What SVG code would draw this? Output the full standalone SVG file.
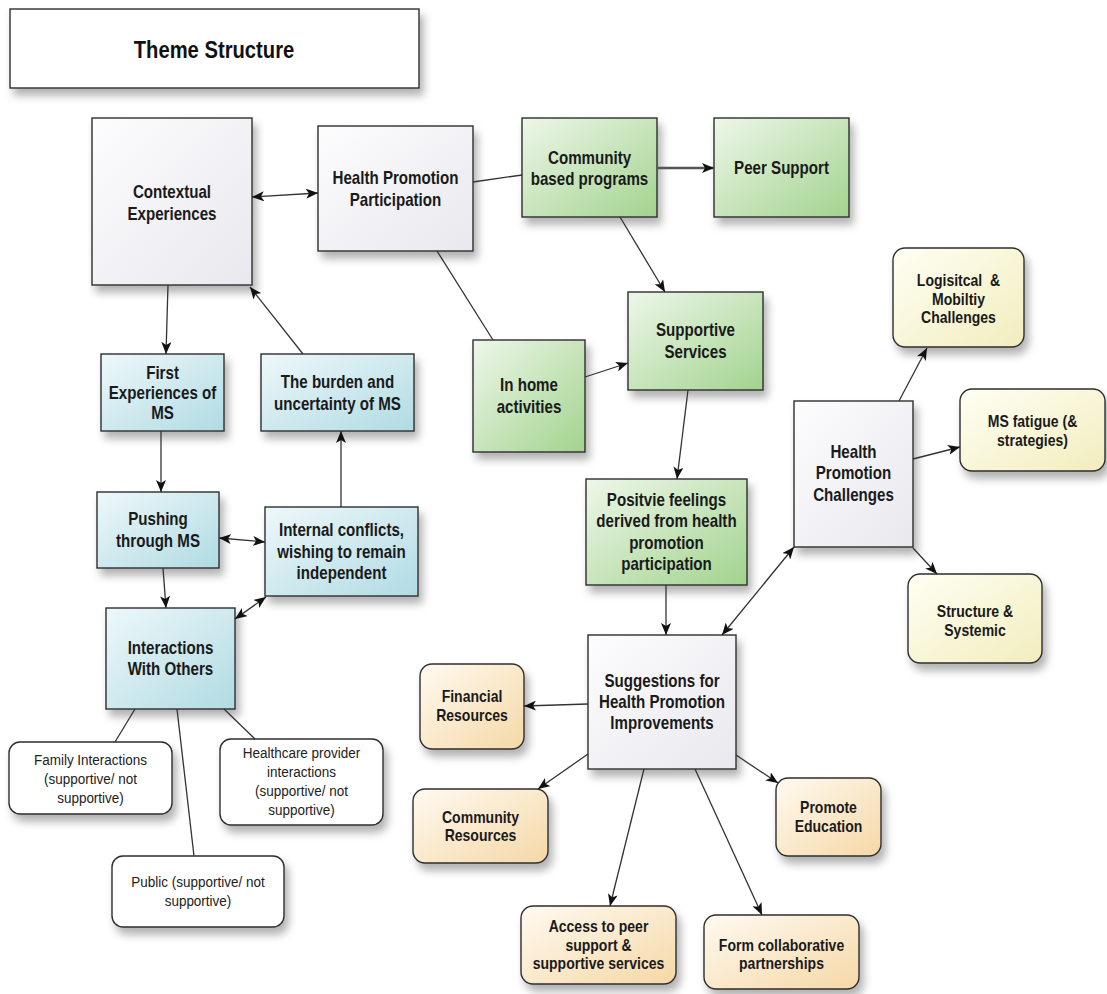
<svg xmlns="http://www.w3.org/2000/svg" width="1107" height="994" viewBox="0 0 1107 994">
  <defs>
    <style>
      .box { stroke: #2e2e2e; stroke-width: 1.4; filter: url(#shadow); }
      .t, .tn, .title { transform-box: fill-box; transform-origin: center; text-anchor: middle; font-family: "Liberation Sans", Arial, sans-serif; }
      .t { font-weight: bold; font-size: 17.8px; fill: #1a1a1a; transform: scaleX(0.85); }
      .t14 { font-size: 16.5px; }
      .tn { font-size: 15.5px; fill: #222; transform: scaleX(0.87); }
      .title { font-weight: bold; font-size: 23.5px; fill: #111; transform: scaleX(0.86); }
      .c { fill: none; stroke: #333; stroke-width: 1.3; }
      .thick { stroke: #555; stroke-width: 2.6; }
      .a { marker-end: url(#arrow); }
      .aa { marker-start: url(#arrow); marker-end: url(#arrow); }
    </style>
    <filter id="shadow" x="-20%" y="-20%" width="150%" height="160%">
      <feDropShadow dx="4" dy="7" stdDeviation="4" flood-color="#000" flood-opacity="0.3"/>
    </filter>
    <linearGradient id="gGray" x1="0" y1="0" x2="1" y2="1">
      <stop offset="0" stop-color="#fdfdfe"/>
      <stop offset="1" stop-color="#e8e8ee"/>
    </linearGradient>
    <linearGradient id="gBlue" x1="0" y1="0" x2="1" y2="1">
      <stop offset="0" stop-color="#eef8fa"/>
      <stop offset="1" stop-color="#b0dbe3"/>
    </linearGradient>
    <linearGradient id="gGreen" x1="0" y1="0" x2="1" y2="1">
      <stop offset="0" stop-color="#eef7ea"/>
      <stop offset="1" stop-color="#a2d38e"/>
    </linearGradient>
    <linearGradient id="gYellow" x1="0" y1="0" x2="1" y2="1">
      <stop offset="0" stop-color="#fffff4"/>
      <stop offset="1" stop-color="#f2edbd"/>
    </linearGradient>
    <linearGradient id="gOrange" x1="0" y1="0" x2="1" y2="1">
      <stop offset="0" stop-color="#fffaf1"/>
      <stop offset="1" stop-color="#f5d8a6"/>
    </linearGradient>
    <marker id="arrow" viewBox="0 0 12 10" refX="12" refY="5" markerWidth="12" markerHeight="10" markerUnits="userSpaceOnUse" orient="auto-start-reverse">
      <path d="M0,0 L12,5 L0,10 L3,5 z" fill="#111"/>
    </marker>
  </defs>

  <rect width="1107" height="994" fill="#ffffff"/>

  <!-- heading -->
  <g id="title">
    <rect class="box" x="10" y="9" width="409" height="79" fill="#ffffff"/>
    <text class="title" x="214" y="58">Theme Structure</text>
  </g>

  <!-- left branch -->
  <g id="contextual">
    <rect class="box" x="92" y="118" width="160" height="167" fill="url(#gGray)"/>
    <text class="t" x="172" y="198">Contextual</text>
    <text class="t" x="172" y="220">Experiences</text>
  </g>
  <g id="hp-participation">
    <rect class="box" x="318" y="126" width="155" height="125" fill="url(#gGray)"/>
    <text class="t" x="395.5" y="184">Health Promotion</text>
    <text class="t" x="395.5" y="206">Participation</text>
  </g>
  <g id="first-experiences">
    <rect class="box" x="101" y="354" width="123" height="77" fill="url(#gBlue)"/>
    <text class="t" x="162.5" y="379">First</text>
    <text class="t" x="162.5" y="399">Experiences of</text>
    <text class="t" x="162.5" y="419">MS</text>
  </g>
  <g id="burden">
    <rect class="box" x="261" y="354" width="153" height="77" fill="url(#gBlue)"/>
    <text class="t" x="337.5" y="388">The burden and</text>
    <text class="t" x="337.5" y="410">uncertainty of MS</text>
  </g>
  <g id="pushing">
    <rect class="box" x="97" y="492" width="122" height="76" fill="url(#gBlue)"/>
    <text class="t" x="158" y="525">Pushing</text>
    <text class="t" x="158" y="547">through MS</text>
  </g>
  <g id="internal-conflicts">
    <rect class="box" x="265" y="507" width="153" height="89" fill="url(#gBlue)"/>
    <text class="t" x="341.5" y="536">Internal conflicts,</text>
    <text class="t" x="341.5" y="558">wishing to remain</text>
    <text class="t" x="341.5" y="579">independent</text>
  </g>
  <g id="interactions">
    <rect class="box" x="106" y="608" width="129" height="101" fill="url(#gBlue)"/>
    <text class="t" x="170.5" y="654">Interactions</text>
    <text class="t" x="170.5" y="675">With Others</text>
  </g>
  <g id="family">
    <rect class="box" x="9" y="742" width="163" height="72" rx="11" fill="#ffffff"/>
    <text class="tn" x="90.5" y="765">Family Interactions</text>
    <text class="tn" x="90.5" y="784">(supportive/ not</text>
    <text class="tn" x="90.5" y="803">supportive)</text>
  </g>
  <g id="healthcare">
    <rect class="box" x="220" y="739" width="163" height="86" rx="11" fill="#ffffff"/>
    <text class="tn" x="301.5" y="758">Healthcare provider</text>
    <text class="tn" x="301.5" y="777">interactions</text>
    <text class="tn" x="301.5" y="796">(supportive/ not</text>
    <text class="tn" x="301.5" y="815">supportive)</text>
  </g>
  <g id="public">
    <rect class="box" x="112" y="856" width="172" height="71" rx="11" fill="#ffffff"/>
    <text class="tn" x="198" y="887">Public (supportive/ not</text>
    <text class="tn" x="198" y="906">supportive)</text>
  </g>

  <!-- participation branch -->
  <g id="community-programs">
    <rect class="box" x="522" y="118" width="135" height="99" fill="url(#gGreen)"/>
    <text class="t" x="589.5" y="164">Community</text>
    <text class="t" x="589.5" y="185">based programs</text>
  </g>
  <g id="peer-support">
    <rect class="box" x="714" y="118" width="135" height="99" fill="url(#gGreen)"/>
    <text class="t" x="781.5" y="174">Peer Support</text>
  </g>
  <g id="supportive-services">
    <rect class="box" x="628" y="292" width="135" height="98" fill="url(#gGreen)"/>
    <text class="t" x="695.5" y="336">Supportive</text>
    <text class="t" x="695.5" y="358">Services</text>
  </g>
  <g id="in-home">
    <rect class="box" x="473" y="340" width="112" height="112" fill="url(#gGreen)"/>
    <text class="t" x="529" y="391">In home</text>
    <text class="t" x="529" y="413">activities</text>
  </g>
  <g id="positive-feelings">
    <rect class="box" x="586" y="479" width="161" height="106" fill="url(#gGreen)"/>
    <text class="t" x="666.5" y="506">Positvie feelings</text>
    <text class="t" x="666.5" y="527">derived from health</text>
    <text class="t" x="666.5" y="549">promotion</text>
    <text class="t" x="666.5" y="570">participation</text>
  </g>

  <!-- challenges -->
  <g id="hp-challenges">
    <rect class="box" x="794" y="401" width="119" height="146" fill="url(#gGray)"/>
    <text class="t" x="853.5" y="458">Health</text>
    <text class="t" x="853.5" y="479">Promotion</text>
    <text class="t" x="853.5" y="501">Challenges</text>
  </g>
  <g id="logistical">
    <rect class="box" x="893" y="248" width="131" height="99" rx="12" fill="url(#gYellow)"/>
    <text class="t t14" x="958.5" y="286" xml:space="preserve">Logisitcal  &amp;</text>
    <text class="t t14" x="958.5" y="305">Mobiltiy</text>
    <text class="t t14" x="958.5" y="323">Challenges</text>
  </g>
  <g id="ms-fatigue">
    <rect class="box" x="960" y="389" width="145" height="82" rx="12" fill="url(#gYellow)"/>
    <text class="t t14" x="1032.5" y="427">MS fatigue (&amp;</text>
    <text class="t t14" x="1032.5" y="446">strategies)</text>
  </g>
  <g id="structure">
    <rect class="box" x="908" y="574" width="134" height="89" rx="12" fill="url(#gYellow)"/>
    <text class="t t14" x="975" y="617">Structure &amp;</text>
    <text class="t t14" x="975" y="636">Systemic</text>
  </g>

  <!-- suggestions -->
  <g id="suggestions">
    <rect class="box" x="588" y="635" width="148" height="134" fill="url(#gGray)"/>
    <text class="t" x="662" y="687">Suggestions for</text>
    <text class="t" x="662" y="708">Health Promotion</text>
    <text class="t" x="662" y="729">Improvements</text>
  </g>
  <g id="financial">
    <rect class="box" x="420" y="664" width="104" height="85" rx="12" fill="url(#gOrange)"/>
    <text class="t t14" x="472" y="702">Financial</text>
    <text class="t t14" x="472" y="721">Resources</text>
  </g>
  <g id="community-resources">
    <rect class="box" x="413" y="789" width="135" height="74" rx="12" fill="url(#gOrange)"/>
    <text class="t t14" x="480.5" y="823">Community</text>
    <text class="t t14" x="480.5" y="841">Resources</text>
  </g>
  <g id="promote-education">
    <rect class="box" x="776" y="778" width="105" height="78" rx="12" fill="url(#gOrange)"/>
    <text class="t t14" x="828.5" y="813">Promote</text>
    <text class="t t14" x="828.5" y="832">Education</text>
  </g>
  <g id="access-peer">
    <rect class="box" x="521" y="906" width="155" height="78" rx="12" fill="url(#gOrange)"/>
    <text class="t t14" x="598.5" y="932">Access to peer</text>
    <text class="t t14" x="598.5" y="951">support &amp;</text>
    <text class="t t14" x="598.5" y="969">supportive services</text>
  </g>
  <g id="collaborative">
    <rect class="box" x="704" y="915" width="155" height="74" rx="12" fill="url(#gOrange)"/>
    <text class="t t14" x="781.5" y="951">Form collaborative</text>
    <text class="t t14" x="781.5" y="969">partnerships</text>
  </g>

  <!-- connectors -->
  <g id="connectors">
    <path class="c aa" d="M252,197 L318,193"/>
    <path class="c a" d="M168,285 L166,354"/>
    <path class="c a" d="M303,354 L250,287"/>
    <path class="c a" d="M161,431 L161,492"/>
    <path class="c a" d="M341,507 L341,431"/>
    <path class="c aa" d="M219,538 L265,542"/>
    <path class="c a" d="M163,568 L166,608"/>
    <path class="c aa" d="M266,597 L235,619"/>
    <path class="c" d="M135,709 L115,742"/>
    <path class="c" d="M177,709 L194,856"/>
    <path class="c" d="M224,709 L255,739"/>
    <path class="c" d="M437,251 L493,340"/>
    <path class="c" d="M473,182 L522,175"/>
    <path class="c thick a" d="M657,168 L714,168"/>
    <path class="c a" d="M620,217 L665,292"/>
    <path class="c a" d="M585,377 L628,363"/>
    <path class="c a" d="M688,390 L677,479"/>
    <path class="c a" d="M666,585 L666,635"/>
    <path class="c aa" d="M722,635 L794,547"/>
    <path class="c a" d="M899,401 L927,348"/>
    <path class="c a" d="M913,459 L960,447"/>
    <path class="c a" d="M913,548 L937,574"/>
    <path class="c a" d="M588,704 L524,706"/>
    <path class="c a" d="M588,754 L538,789"/>
    <path class="c a" d="M644,769 L610,906"/>
    <path class="c a" d="M695,769 L762,915"/>
    <path class="c a" d="M736,755 L778,783"/>
  </g>
</svg>
